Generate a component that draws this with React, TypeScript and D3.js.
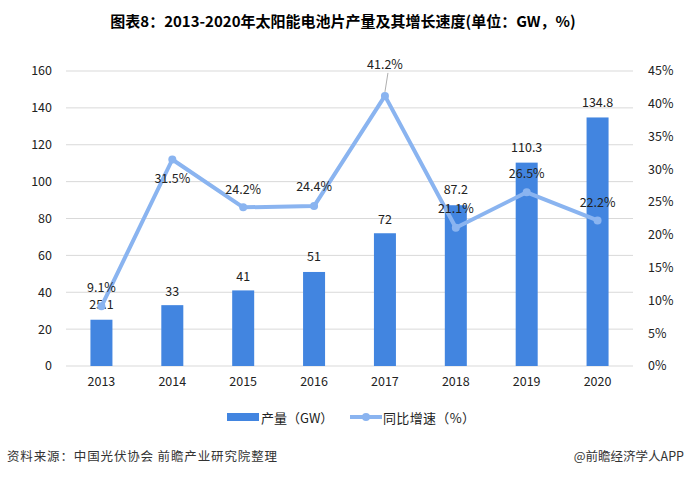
import React from "react";
import * as d3 from "d3";

const years = ["2013", "2014", "2015", "2016", "2017", "2018", "2019", "2020"];
const output = [25.1, 33, 41, 51, 72, 87.2, 110.3, 134.8];
const growth = [9.1, 31.5, 24.2, 24.4, 41.2, 21.1, 26.5, 22.2];
const leftTicks = [0, 20, 40, 60, 80, 100, 120, 140, 160];
const rightTicks = [0, 5, 10, 15, 20, 25, 30, 35, 40, 45];
// label offsets (dy relative to point / bar top)
const growthLabelDy = [-19, 19, -18, -19, -31, -19, -19, -18];
const barLabelDy = [-15, -14, -14, -15, -14, -16, -15, -15];

const W = 686, H = 478;
const font = "'Noto Sans CJK SC', 'Microsoft YaHei', sans-serif";

export default function App() {
  const x = d3.scaleBand().domain(years).range([66, 633]).paddingInner(0).paddingOuter(0);
  const yL = d3.scaleLinear().domain([0, 160]).range([366, 71]);
  const yR = d3.scaleLinear().domain([0, 45]).range([366, 71]);
  const bw = 22;
  const cx = (d: string) => (x(d) as number) + x.bandwidth() / 2;
  const line = d3
    .line<number>()
    .x((_, i) => cx(years[i]))
    .y((d) => yR(d));
  return (
    <svg width={W} height={H} style={{ position: "absolute", left: 0, top: 0, background: "#fff" }} fontFamily={font}>
      <rect width={W} height={H} fill="#fff" />
      <text x={343} y={27} textAnchor="middle" fontSize={15} fontWeight="bold" fill="#000">
        图表8：2013-2020年太阳能电池片产量及其增长速度(单位：GW，%)
      </text>
      {leftTicks.map((t) => (
        <g key={t}>
          <line x1={66} x2={633} y1={yL(t)} y2={yL(t)} stroke="#d9d9d9" strokeWidth={1} />
          <text x={52} y={yL(t)} dy="0.35em" textAnchor="end" fontSize={12.5} fill="#222">
            {t}
          </text>
        </g>
      ))}
      {rightTicks.map((t) => (
        <text key={t} x={648} y={yR(t)} dy="0.35em" textAnchor="start" fontSize={12.5} fill="#222">
          {t}%
        </text>
      ))}
      {years.map((yr, i) => (
        <g key={yr}>
          <rect x={cx(yr) - bw / 2} y={yL(output[i])} width={bw} height={366 - yL(output[i])} fill="#4285e0" />
          <text x={cx(yr)} y={366 + 20} textAnchor="middle" fontSize={12.5} fill="#222">
            {yr}
          </text>
          <text x={cx(yr)} y={yL(output[i]) + barLabelDy[i]} dy="0.35em" textAnchor="middle" fontSize={12.5} fill="#222">
            {output[i]}
          </text>
        </g>
      ))}
      <path d={line(growth) as string} fill="none" stroke="#8ab4f0" strokeWidth={4} strokeLinejoin="round" />
      {growth.map((g, i) => (
        <circle key={i} cx={cx(years[i])} cy={yR(g)} r={4} fill="#8ab4f0" />
      ))}
      <line x1={cx("2017")} y1={yR(41.2) - 4} x2={cx("2017") + 3} y2={yR(41.2) - 23} stroke="#999" strokeWidth={0.8} />
      {growth.map((g, i) => (
        <text key={i} x={cx(years[i])} y={yR(g) + growthLabelDy[i]} dy="0.35em" textAnchor="middle" fontSize={12.5} fill="#222">
          {g}%
        </text>
      ))}
      <rect x={227} y={413} width={32} height={8} fill="#4285e0" />
      <text x={261} y={418} dy="0.35em" fontSize={13} fill="#222">产量（GW）</text>
      <line x1={350} x2={382} y1={417} y2={417} stroke="#8ab4f0" strokeWidth={4} />
      <circle cx={366} cy={417} r={4} fill="#8ab4f0" />
      <text x={383} y={418} dy="0.35em" fontSize={13} fill="#222" textLength={92} lengthAdjust="spacing">同比增速（%）</text>
      <text x={7} y={457} dy="0.35em" fontSize={12.5} fill="#333" textLength={270} lengthAdjust="spacing">资料来源：中国光伏协会 前瞻产业研究院整理</text>
      <text x={684} y={457} dy="0.35em" textAnchor="end" fontSize={12.5} fill="#333">@前瞻经济学人APP</text>
    </svg>
  );
}
